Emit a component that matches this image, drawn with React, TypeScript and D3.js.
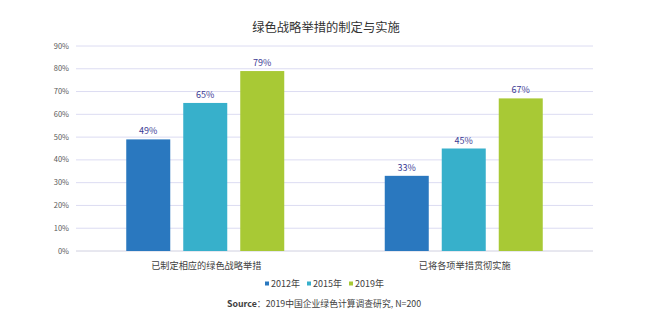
import React from "react";
import * as d3 from "d3";

const categories = ["已制定相应的绿色战略举措", "已将各项举措贯彻实施"];
const seriesNames = ["2012年", "2015年", "2019年"];
const values2012 = [49, 33];
const values2015 = [65, 45];
const values2019 = [79, 67];
const yTicks = [0, 10, 20, 30, 40, 50, 60, 70, 80, 90];
const colors = ["#2a78bf", "#37b0cb", "#a8c935"];

export default function App() {
  const W = 650, H = 330;
  const left = 76, right = 593, top = 46, bottom = 251;
  const series = [values2012, values2015, values2019];
  const y = d3.scaleLinear().domain([0, 90]).range([bottom, top]);
  const x0 = d3.scalePoint().domain(categories).range([left, right]).padding(0.5);
  const x1 = d3.scaleBand().domain(seriesNames).range([-79, 79]).paddingInner(0.228);
  const font = "'Microsoft YaHei','Noto Sans CJK SC','Noto Sans',sans-serif";
  return (
    <svg width={W} height={H} style={{ position: "absolute", left: 0, top: 0, background: "#fff" }} fontFamily={font}>
      <text x={326} y={32} textAnchor="middle" fontSize={12.3} fill="#333">绿色战略举措的制定与实施</text>
      {yTicks.map((t) => (
        <g key={t}>
          <line x1={left} x2={right} y1={y(t)} y2={y(t)} stroke={t === 0 ? "#d0d0e0" : "#dcdcf2"} strokeWidth={1} />
          <text x={69} y={y(t) + 2.5} textAnchor="end" fontSize={7.5} fill="#595959">{t}%</text>
        </g>
      ))}
      {categories.map((c) => {
        const cx = x0(c) as number;
        return (
          <g key={c}>
            {series.map((s, si) => {
              const v = s[categories.indexOf(c)];
              const bx = cx + (x1(seriesNames[si]) as number);
              return (
                <g key={si}>
                  <rect x={bx} y={y(v)} width={x1.bandwidth()} height={bottom - y(v)} fill={colors[si]} />
                  <text x={bx + x1.bandwidth() / 2} y={y(v) - 5} textAnchor="middle" fontSize={9} fill="#3b3b94">{v}%</text>
                </g>
              );
            })}
            <text x={cx + 1} y={269} textAnchor="middle" fontSize={9.2} fill="#404040">{c}</text>
          </g>
        );
      })}
      {seriesNames.map((n, i) => {
        const lx = 265 + i * 42;
        return (
          <g key={n}>
            <rect x={lx} y={281.5} width={4} height={4} fill={colors[i]} />
            <text x={lx + 6} y={287} fontSize={9} fill="#404040">{n}</text>
          </g>
        );
      })}
      <text x={227} y={307} fontSize={8.8} fill="#404040">
        <tspan fontWeight="bold">Source</tspan>
        <tspan>：2019中国企业绿色计算调查研究, N=200</tspan>
      </text>
    </svg>
  );
}
